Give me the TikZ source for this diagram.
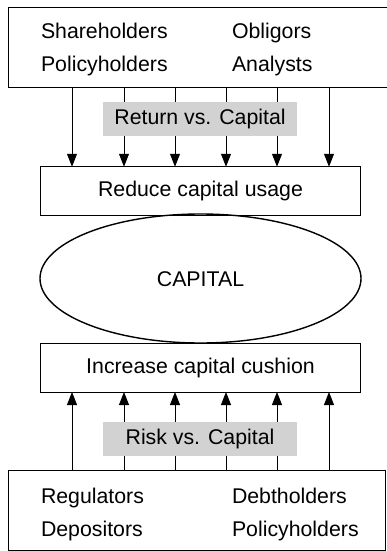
\documentclass[tikz,border=0pt]{standalone}
\usepackage{fontspec}
\setmainfont{Liberation Sans}
\usetikzlibrary{arrows.meta}
\begin{document}
\begin{tikzpicture}[x=1pt,y=-1pt,
  every node/.style={font=\fontsize{21.3}{25}\selectfont, inner sep=0pt, outer sep=0pt},
  frame/.style={draw, line width=0.9pt, rectangle},
  label/.style={fill=gray!35, minimum width=194pt, minimum height=34pt},
  flow/.style={line width=0.9pt, -{Triangle[length=13pt,width=10pt]}},
  lbl/.style={anchor=base west}]
\useasboundingbox (0,0) rectangle (386,551);
% top box (runs past the right edge)
\node[frame, minimum width=392pt, minimum height=80pt, anchor=north west] (top) at (8,7) {};
\node[lbl] (t1) at (41,39) {Shareholders};
\node[lbl] (t2) at (41,71) {Policyholders};
\node[lbl] (t3) at (232,39) {Obligors};
\node[lbl] (t4) at (232,71) {Analysts};
% reduce box
\node[frame, minimum width=320pt, minimum height=48.5pt] (reduce) at (200.5,191) {Reduce capital usage};
% capital ellipse
\draw[line width=1.4pt] (200.5,278.5) ellipse (160.5pt and 64.5pt);
\node (cap) at (200.5,279) {CAPITAL};
% increase box
\node[frame, minimum width=320pt, minimum height=49pt] (incr) at (200.5,367.5) {Increase capital cushion};
% bottom box
\node[frame, minimum width=377pt, minimum height=80pt, anchor=north west] (bot) at (8,470) {};
\node[lbl] (b1) at (41,503) {Regulators};
\node[lbl] (b2) at (41,536) {Depositors};
\node[lbl] (b3) at (232,503) {Debtholders};
\node[lbl] (b4) at (232,536) {Policyholders};
% columns
\foreach \i/\x in {1/72,2/124,3/175,4/226,5/277,6/329}{
  \coordinate (c\i) at (\x,0);
  \draw[flow] (c\i |- top.south) -- (c\i |- reduce.north);
  \draw[flow] (c\i |- bot.north) -- (c\i |- incr.south);
}
% grey labels over the arrows
\node[label] (ret) at (200,119) {Return vs. Capital};
\node[label] (risk) at (200,439) {Risk vs. Capital};
\end{tikzpicture}
\end{document}
